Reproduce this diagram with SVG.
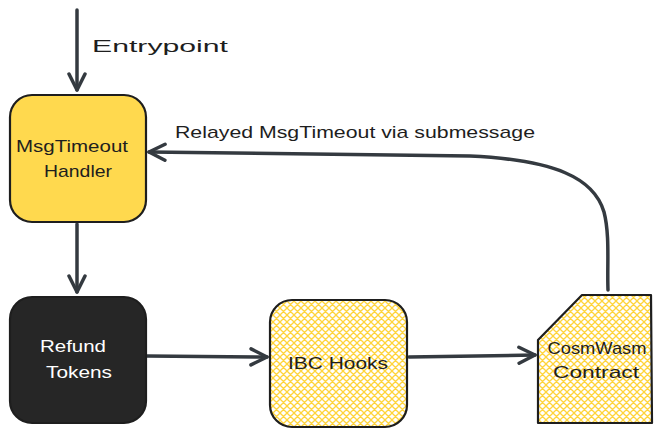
<svg xmlns="http://www.w3.org/2000/svg" width="662" height="437" viewBox="0 0 662 437">
<style>
.node{stroke:#1e1e1e;stroke-width:2.2;stroke-linejoin:round}
.conn{fill:none;stroke:#343a40;stroke-width:3.5;stroke-linecap:round;stroke-linejoin:round}
.t{font-family:"Liberation Sans",sans-serif;font-size:17px;fill:#1e1e1e;text-anchor:middle}
.w{fill:#ffffff}
.lbl{font-family:"Liberation Sans",sans-serif;font-size:17px;fill:#1e1e1e}
</style>
<defs>
<pattern id="hatch" width="7" height="7" patternUnits="userSpaceOnUse">
<rect width="7" height="7" fill="#ffffff"/>
<path d="M0,0 L7,7 M7,0 L0,7 M-1,6 L1,8 M6,-1 L8,1 M6,8 L8,6 M-1,1 L1,-1" stroke="#ffd43b" stroke-width="1.3"/>
</pattern>
<marker id="arr" viewBox="0 0 20 20" refX="18" refY="10" markerWidth="20" markerHeight="20" markerUnits="userSpaceOnUse" orient="auto">
<path d="M2,2 L18,10 L2,18" fill="none" stroke="#343a40" stroke-width="3.5" stroke-linecap="round" stroke-linejoin="round"/>
</marker>
</defs>
<rect width="662" height="437" fill="#ffffff"/>
<g id="connectors">
<path class="conn" d="M77,10 L77,90" marker-end="url(#arr)"/>
<path class="conn" d="M77,224 L77,292" marker-end="url(#arr)"/>
<path class="conn" d="M147,356 L267,357" marker-end="url(#arr)"/>
<path class="conn" d="M409,357 L535,355" marker-end="url(#arr)"/>
<path class="conn" d="M608,290 C607,265 610,235 604,212 C594,178 555,160 470,156 L149,152" marker-end="url(#arr)"/>
</g>
<g id="labels">
<text class="lbl" x="92" y="52" font-size="22" textLength="136" lengthAdjust="spacingAndGlyphs">Entrypoint</text>
<text class="lbl" x="175" y="138" textLength="360" lengthAdjust="spacingAndGlyphs">Relayed MsgTimeout via submessage</text>
</g>
<g id="handler">
<rect class="node" x="10" y="95" width="136" height="127" rx="22" fill="#ffd94e"/>
<text class="t" x="72" y="152" textLength="112" lengthAdjust="spacingAndGlyphs">MsgTimeout</text>
<text class="t" x="78" y="177" textLength="68" lengthAdjust="spacingAndGlyphs">Handler</text>
</g>
<g id="refund">
<rect class="node" x="10" y="297" width="136" height="126" rx="22" fill="#262626" stroke="#3a3a3a"/>
<text class="t w" x="73" y="352" textLength="66" lengthAdjust="spacingAndGlyphs">Refund</text>
<text class="t w" x="79" y="378" textLength="66" lengthAdjust="spacingAndGlyphs">Tokens</text>
</g>
<g id="ibc">
<rect class="node" x="270" y="300" width="137" height="127" rx="22" fill="url(#hatch)"/>
<text class="t" x="338" y="369" textLength="100" lengthAdjust="spacingAndGlyphs">IBC Hooks</text>
</g>
<g id="cosmwasm">
<path class="node" d="M582,295 L651,295 L652,423 L538,423 L538,340 Z" fill="url(#hatch)"/>
<text class="t" x="597" y="354" textLength="99" lengthAdjust="spacingAndGlyphs">CosmWasm</text>
<text class="t" x="596" y="378" textLength="86" lengthAdjust="spacingAndGlyphs">Contract</text>
</g>
</svg>
